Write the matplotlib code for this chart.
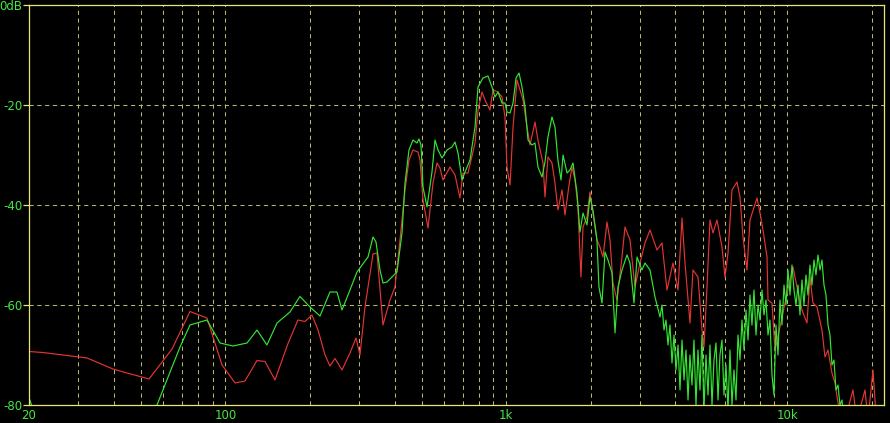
import matplotlib
matplotlib.use("Agg")

import matplotlib.pyplot as plt
from matplotlib.ticker import NullFormatter

# Left channel (red) - frequency in Hz, level in dB
red_freq = [20, 22.4, 32.2, 39.8, 44.7, 53.5, 64.6, 74.8, 86.0, 97.3,
            108.3, 117.4, 129.6, 138.4, 150.2, 167.1, 181.3, 192, 203.4, 213.7,
            226.3, 235.7, 245.6, 260.1, 277.7, 291.7, 301.4, 314, 335.4, 346.5,
            363.9, 385.4, 401.5, 418.4, 435.9, 450.4, 465.4, 484.9, 492.9, 505.2,
            526.4, 548.3, 566.6, 580.7, 595.2, 630.3, 656.7, 684.1, 701.1, 730.5,
            773.7, 793, 819.3, 839.8, 874.8, 896.6, 934.2, 965.2, 989.3, 1005.6,
            1031, 1056.7, 1092, 1119, 1147, 1185, 1214, 1265, 1296, 1351,
            1373, 1407, 1454, 1490, 1527, 1579, 1618, 1672, 1713, 1756,
            1799, 1844, 1875, 1937, 1985, 2034, 2102, 2155, 2209, 2282,
            2339, 2397, 2477, 2581, 2645, 2756, 2871, 2991, 3116, 3247,
            3439, 3582, 3732, 3920, 4085, 4221, 4326, 4506, 4618, 4812,
            4972, 5054, 5180, 5309, 5441, 5623, 5857, 6003, 6153, 6357,
            6624, 6789, 6958, 7190, 7368, 7804, 7998, 8197, 8471, 8541,
            8824, 9045, 9422, 9817, 10227, 10482, 10831, 11283, 11756, 12048,
            12348, 12760, 13293, 13625, 13965, 14428, 14789, 15158, 16052, 17138,
            17710, 18911, 19382, 20191, 20695, 22100]
red_db = [-69.3, -69.5, -70.6, -72.8, -73.6, -74.8, -68.8, -61.3, -62.6, -72,
          -75.6, -75.2, -71.1, -71.3, -75, -67.7, -63, -63.3, -62, -65,
          -70, -72.2, -70.7, -73, -69.6, -66.6, -70, -60.4, -49.8, -49.6,
          -64, -59, -56.4, -47, -37, -31, -29, -29.4, -31, -39,
          -44.6, -35.6, -31.6, -32.6, -35, -32.4, -34, -38.6, -33.6, -33.6,
          -27.6, -21, -17.4, -19, -21, -17, -17.4, -18.4, -22.4, -32.4,
          -36, -24.4, -15, -17, -19, -24.4, -28, -23.4, -27, -31.6,
          -38.4, -30.4, -31.6, -35.6, -41, -37, -42, -36, -32.4, -35,
          -40.4, -54.4, -44.4, -42.4, -37.4, -41.6, -47, -48.4, -50.4, -43.4,
          -47, -55.6, -59, -50.4, -44.4, -47, -56.4, -51.6, -47.6, -45,
          -49, -47.6, -57, -51.6, -57, -42.6, -51.6, -63.6, -53, -54.4,
          -65, -68.4, -56.4, -43, -45.6, -43, -48.4, -54.4, -49.6, -37,
          -35.4, -38.4, -46.4, -53, -43, -38.6, -41.6, -45, -50.4, -59,
          -59.6, -69, -64.4, -59.6, -55, -52.4, -56.4, -61, -63.6, -54.4,
          -59.6, -60.4, -65, -70.4, -69, -73.6, -75.6, -79.6, -83, -77,
          -83, -77, -83, -73, -82, -83]

# Right channel (green)
green_freq = [20, 20.7, 53.9, 57.1, 68.95, 74.84, 86.0, 95.7, 106.5, 119.4,
              129.6, 140.6, 152.7, 169.8, 184.3, 200.1, 217.2, 235.7, 249.6, 260.1,
              277.7, 294.1, 321.9, 335.4, 343.7, 355.1, 363.9, 376.1, 408.2, 425.3,
              435.9, 450.4, 465.4, 480.9, 488.9, 496.9, 505.2, 522, 543.8, 557.4,
              571.3, 590.3, 615, 640.7, 656.7, 673.1, 695.4, 712.8, 742.6, 773.7,
              793, 826, 860.7, 889.2, 911.5, 934.2, 965.2, 989.3, 1005.6, 1031,
              1056.7, 1083, 1110, 1137, 1166, 1195, 1234, 1265, 1296, 1340,
              1373, 1407, 1454, 1490, 1527, 1566, 1592, 1645, 1685, 1727,
              1785, 1829, 1875, 1937, 1985, 2034, 2102, 2137, 2191, 2245,
              2301, 2378, 2437, 2498, 2581, 2689, 2756, 2848, 2919, 3040,
              3116, 3247, 3383,
              3524, 3582, 3642, 3702, 3763, 3825, 3888, 3953, 4018, 4085,
              4152, 4221, 4291, 4362, 4434, 4506, 4580, 4656, 4733, 4812,
              4891, 4972, 5054, 5138, 5223, 5309, 5397, 5486, 5577, 5670,
              5762, 5857, 5954, 6053, 6153, 6254, 6357, 6463, 6570, 6679,
              6789, 6901, 7016, 7132, 7250, 7368, 7490, 7614, 7740, 7868,
              7998, 8130, 8265, 8402, 8541, 8681, 8824, 8970, 9118, 9269,
              9422, 9578, 9737, 9898, 10062, 10227, 10396, 10568, 10743, 10921,
              11100, 11283, 11470, 11659, 11852, 12048, 12247, 12450, 12656, 12866,
              13077, 13293, 13513, 13737, 13965, 14194, 14428, 14668, 14911, 15158,
              15406, 15661, 15920, 22100]
green_db = [-78.5, -81, -83, -80, -68.4, -64, -63, -67.6, -68.2, -67.6,
            -65, -68, -63.6, -61.4, -58.3, -60.4, -62.2, -57.4, -57.4, -61,
            -57, -53.4, -50.4, -46.4, -47.4, -53, -55.6, -55.4, -53.4, -45.6,
            -35.6, -29, -27, -27.6, -26.8, -28, -36.4, -40.4, -33.4, -27,
            -29, -30.6, -29, -28.4, -27.4, -29.6, -35, -33.4, -31, -24.4,
            -16.4, -14.6, -14.2, -16.4, -18.4, -17.4, -19.6, -19.6, -21.4, -21.6,
            -19.6, -14.6, -13.6, -16.4, -20.4, -27, -28, -27.6, -32.4, -34.4,
            -31.4, -26.4, -22.4, -24.4, -31, -35, -30, -33.6, -33, -31.6,
            -37.6, -45.4, -41.6, -44, -38.4, -41, -47, -56.4, -59.6, -49.4,
            -51, -53.6, -65.6, -56.4, -53, -50, -51.6, -59.6, -50.4, -53,
            -51.6, -53, -58.4,
            -62.4, -60, -65, -63, -68, -64, -71.6, -66, -73, -68,
            -77, -67, -75, -69, -79, -70, -76, -67, -80, -69,
            -77, -66, -81, -70, -78, -68, -80, -71, -67.6, -79,
            -70, -67, -78, -72, -81, -69, -80, -73, -79, -66,
            -71, -63, -69, -61, -67, -58, -64, -57, -66, -60,
            -63, -57, -62, -59, -66, -63, -74, -78, -64, -70,
            -59, -64, -56, -60, -53, -58, -52, -57, -60, -56,
            -62, -55, -60, -54, -58, -52, -56, -51, -54, -50,
            -53, -51, -56, -58, -64, -66, -72, -71, -77, -76,
            -80, -79, -83, -83]

x_major = [20, 100, 1000, 10000]
x_major_labels = ["20", "100", "1k", "10k"]
x_minor = [30, 40, 50, 60, 70, 80, 90, 200, 300, 400, 500, 600, 700, 800, 900,
           2000, 3000, 4000, 5000, 6000, 7000, 8000, 9000, 20000]
y_ticks = [0, -20, -40, -60, -80]
y_labels = ["0dB", "-20", "-40", "-60", "-80"]

frame_col = "#e6e67a"
grid_col = "#b8b870"
text_col = "#44e844"


def main():
    fig = plt.figure(figsize=(8.9, 4.23), dpi=100)
    fig.patch.set_facecolor("black")
    ax = fig.add_axes([29 / 890, 18 / 423, 855 / 890, 400 / 423])
    ax.set_facecolor("black")

    ax.set_xscale("log")
    ax.set_xlim(20, 22100)
    ax.set_ylim(-80, 0)

    ax.set_xticks(x_major)
    ax.set_xticklabels(x_major_labels)
    ax.set_xticks(x_minor, minor=True)
    ax.xaxis.set_minor_formatter(NullFormatter())
    ax.set_yticks(y_ticks)
    ax.set_yticklabels(y_labels)

    ax.grid(True, which="both", axis="x", color=grid_col,
            linestyle=(0, (4, 3.5)), linewidth=0.75)
    ax.grid(True, which="major", axis="y", color=grid_col,
            linestyle=(0, (4, 3.5)), linewidth=0.75)
    ax.set_axisbelow(True)

    ax.tick_params(axis="x", which="both", length=0, pad=3,
                   labelsize=8.5, labelcolor=text_col)
    ax.tick_params(axis="y", length=4, width=0.9, color=frame_col, pad=0.5,
                   labelsize=8.5, labelcolor=text_col)
    for sp in ax.spines.values():
        sp.set_color(frame_col)
        sp.set_linewidth(0.9)

    ax.plot(red_freq, red_db, color="#e43434", lw=0.85)
    ax.plot(green_freq, green_db, color="#33e633", lw=0.85)

    fig.savefig("out.png", dpi=100, facecolor="black")


if __name__ == "__main__":
    main()
